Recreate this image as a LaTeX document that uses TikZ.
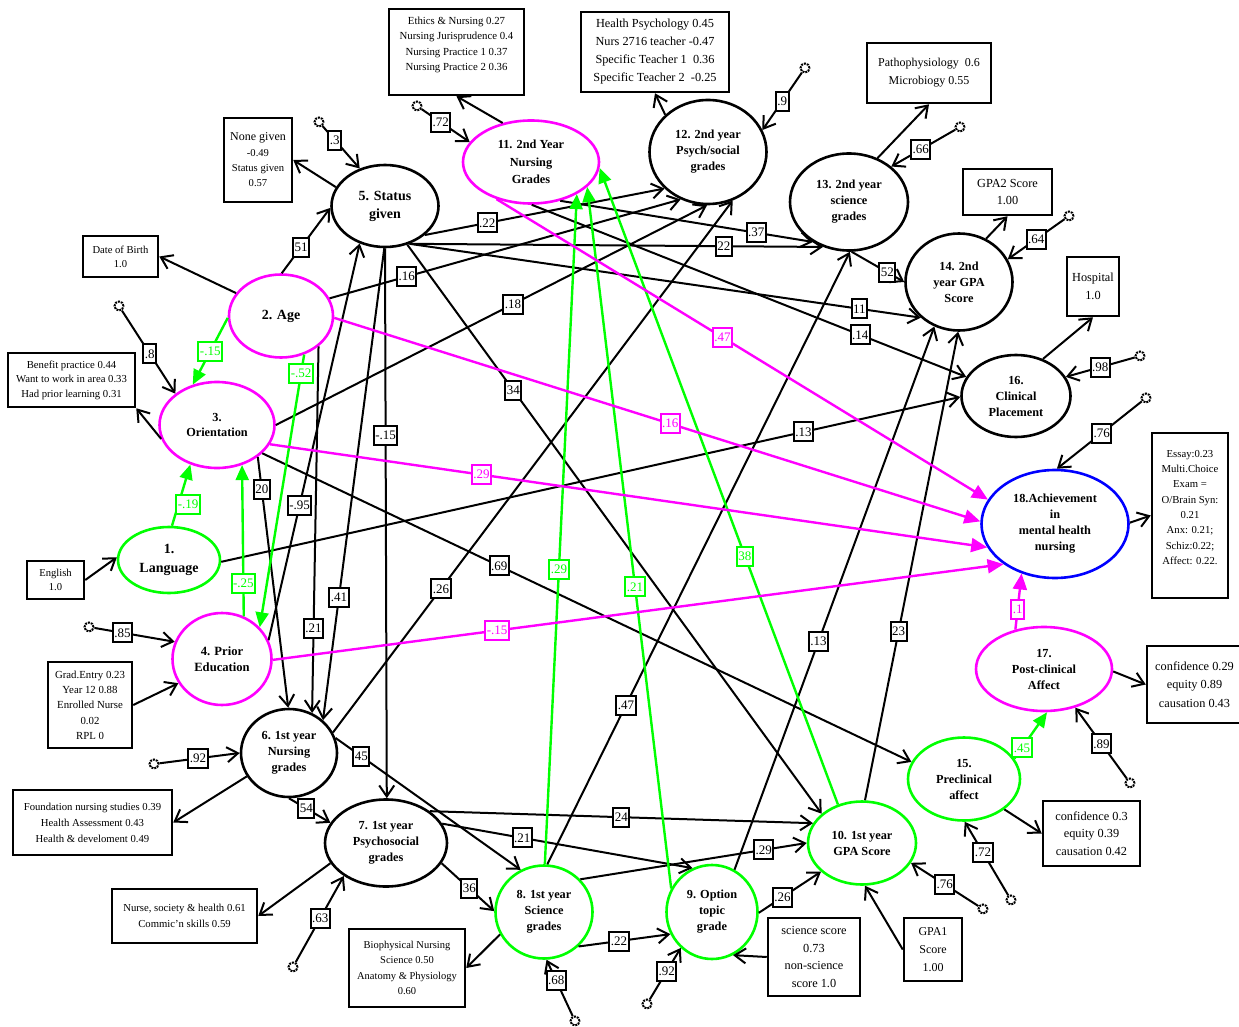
\documentclass[tikz,border=0pt]{standalone}
\usepackage{fontspec}
\setmainfont{Liberation Serif}
\usetikzlibrary{shapes.geometric,arrows.meta}
\definecolor{grn0}{RGB}{0,255,0}
\definecolor{mag0}{RGB}{255,0,255}
\definecolor{blu0}{RGB}{0,0,255}
\tikzset{
 lat/.style={ellipse, draw, line width=2.6pt, inner sep=0pt, align=center, font=\fontsize{12.3}{16}\selectfont\bfseries},
 blk/.style={lat},
 grn/.style={lat, draw=grn0},
 mag/.style={lat, draw=mag0},
 blu/.style={lat, draw=blu0},
 ind/.style={draw, rectangle, line width=2.5pt, align=center, inner sep=1pt, font=\fontsize{10.7}{15}\selectfont},
 err/.style={circle, draw, densely dotted, line width=2pt, minimum size=9pt, inner sep=0pt},
 lbl/.style={draw, fill=white, line width=2pt, inner xsep=1.5pt, inner ysep=0pt, minimum height=19pt, text=black, font=\fontsize{13}{13}\selectfont},
 glbl/.style={lbl, draw=grn0, text=grn0},
 mlbl/.style={lbl, draw=mag0, text=mag0},
 pa/.style={line width=2pt, -{Straight Barb[length=11pt,width=15pt]}},
 ga/.style={line width=2.4pt, draw=grn0, -{Triangle[length=15pt,width=13pt]}},
 ma/.style={line width=2.4pt, draw=mag0, -{Triangle[length=16pt,width=14pt]}}
}
\begin{document}
\begin{tikzpicture}[x=1pt,y=-1pt]
\useasboundingbox (0,0) rectangle (1239,1027);
\fill[white] (0,0) rectangle (1239,1027);

% latent ellipses
\node[grn, minimum width=102pt, minimum height=66pt, font=\fontsize{14}{19}\selectfont\bfseries] (n1) at (169,560) {1.\\Language};
\node[mag, minimum width=104pt, minimum height=83pt, font=\fontsize{14}{18}\selectfont\bfseries] (n2) at (281,316) {2. Age};
\node[mag, minimum width=115pt, minimum height=86pt, font=\fontsize{12.3}{15}\selectfont\bfseries] (n3) at (217,425) {3.\\Orientation};
\node[mag, minimum width=99pt, minimum height=92pt, font=\fontsize{12.6}{16}\selectfont\bfseries] (n4) at (222,659) {4. Prior\\Education};
\node[blk, minimum width=107pt, minimum height=82pt, font=\fontsize{14}{18}\selectfont\bfseries] (n5) at (385,206) {5. Status\\given};
\node[blk, minimum width=96pt, minimum height=88pt] (n6) at (289,753) {6. 1st year\\Nursing\\grades};
\node[blk, minimum width=122pt, minimum height=87pt] (n7) at (386,843) {7. 1st year\\Psychosocial\\grades};
\node[grn, minimum width=97pt, minimum height=93pt] (n8) at (544,912) {8. 1st year\\Science\\grades};
\node[grn, minimum width=91pt, minimum height=94pt] (n9) at (712,912) {9. Option\\topic\\grade};
\node[grn, minimum width=108pt, minimum height=83pt] (n10) at (862,843) {10. 1st year\\GPA Score};
\node[mag, minimum width=136pt, minimum height=83pt, font=\fontsize{12.3}{17.5}\selectfont\bfseries] (n11) at (531,162) {11. 2nd Year\\Nursing\\Grades};
\node[blk, minimum width=117pt, minimum height=104pt] (n12) at (708,152) {12. 2nd year\\Psych/social\\grades};
\node[blk, minimum width=118pt, minimum height=97pt] (n13) at (849,202) {13. 2nd year\\science\\grades};
\node[blk, minimum width=107pt, minimum height=97pt] (n14) at (959,282) {14. 2nd\\year GPA\\Score};
\node[grn, minimum width=112pt, minimum height=83pt] (n15) at (964,779) {15.\\Preclinical\\affect};
\node[blk, minimum width=109pt, minimum height=82pt] (n16) at (1016,396) {16.\\Clinical\\Placement};
\node[mag, minimum width=136pt, minimum height=84pt] (n17) at (1044,669) {17.\\Post-clinical\\Affect};
\node[blu, minimum width=147pt, minimum height=108pt] (n18) at (1055,524) {18.Achievement\\in\\mental health\\nursing};

% indicator boxes
\node[ind, minimum width=135pt, minimum height=86pt, font=\fontsize{10.8}{15.5}\selectfont] (bA) at (456.5,52) {Ethics \& Nursing 0.27\\Nursing Jurisprudence 0.4\\Nursing Practice 1 0.37\\Nursing Practice 2 0.36\\[1pt]};
\node[ind, minimum width=148pt, minimum height=80pt, font=\fontsize{12.3}{18}\selectfont] (bB) at (655,52) {Health Psychology 0.45\\Nurs 2716 teacher -0.47\\Specific Teacher 1~~0.36\\Specific Teacher 2~~-0.25};
\node[ind, minimum width=124pt, minimum height=60pt, font=\fontsize{12}{18}\selectfont] (bC) at (929,73) {Pathophysiology~~0.6\\Microbiogy 0.55};
\node[ind, minimum width=89pt, minimum height=46pt, font=\fontsize{12.3}{17}\selectfont] (bD) at (1007.5,192) {GPA2 Score\\1.00};
\node[ind, minimum width=52pt, minimum height=59pt, font=\fontsize{12.3}{18}\selectfont] (bE) at (1093,286.5) {Hospital\\1.0};
\node[ind, minimum width=76pt, minimum height=165pt, font=\fontsize{10.7}{15.3}\selectfont] (bF) at (1190,515.5) {Essay:0.23\\Multi.Choice\\Exam =\\O/Brain Syn:\\0.21\\Anx: 0.21;\\Schiz:0.22;\\Affect: 0.22.\\[1pt]};
\node[ind, minimum width=95pt, minimum height=77pt, font=\fontsize{12.3}{18.5}\selectfont] (bG) at (1194.5,684.5) {confidence 0.29\\equity 0.89\\causation 0.43};
\node[ind, minimum width=97pt, minimum height=65pt, font=\fontsize{12.3}{17.5}\selectfont] (bH) at (1091.5,833.5) {confidence 0.3\\equity 0.39\\causation 0.42};
\node[ind, minimum width=58pt, minimum height=63pt, font=\fontsize{12}{18}\selectfont] (bI) at (933,949.5) {GPA1\\Score\\1.00};
\node[ind, minimum width=92pt, minimum height=78pt, font=\fontsize{12.3}{17.7}\selectfont] (bJ) at (814,957) {science score\\0.73\\non-science\\score 1.0};
\node[ind, minimum width=116pt, minimum height=78pt, font=\fontsize{10.5}{15.3}\selectfont] (bK) at (407,968) {Biophysical Nursing\\Science 0.50\\Anatomy \& Physiology\\0.60};
\node[ind, minimum width=145pt, minimum height=54pt, font=\fontsize{10.7}{16}\selectfont] (bL) at (184.5,916) {Nurse, society \& health 0.61\\Commic'n skills 0.59};
\node[ind, minimum width=159pt, minimum height=65pt, font=\fontsize{10.7}{16}\selectfont] (bM) at (92.5,822.5) {Foundation nursing studies 0.39\\Health Assessment 0.43\\Health \& develoment 0.49};
\node[ind, minimum width=84pt, minimum height=86pt, font=\fontsize{10.8}{15.3}\selectfont] (bN) at (90,705) {Grad.Entry 0.23\\Year 12 0.88\\Enrolled Nurse\\0.02\\RPL 0};
\node[ind, minimum width=57pt, minimum height=38pt, font=\fontsize{10.6}{14}\selectfont] (bO) at (55.5,580) {English\\1.0};
\node[ind, minimum width=127pt, minimum height=54pt, font=\fontsize{10.7}{14.5}\selectfont] (bP) at (71.5,380) {Benefit practice 0.44\\Want to work in area 0.33\\Had prior learning 0.31};
\node[ind, minimum width=75pt, minimum height=41pt, font=\fontsize{10.6}{14}\selectfont] (bQ) at (120.5,256.5) {Date of Birth\\1.0};
\node[ind, minimum width=68pt, minimum height=84pt, font=\fontsize{10.6}{15.3}\selectfont] (bR) at (258,160) {{\fontsize{12}{15}\selectfont None given}\\-0.49\\Status given\\0.57};

% indicator arrows
\draw[pa] (n2.153) -- (bQ.east);
\draw[pa] (n5.159) -- (bR.east);
\draw[pa] (n3.194.5) -- (bP.south east);
\draw[pa] (bO.east) -- (n1.177);
\draw[pa] (bN.east) -- (n4.209);
\draw[pa] (n6.209) -- (bM.east);
\draw[pa] (n7.200) -- (bL.east);
\draw[pa] (n8.207) -- (bK.east);
\draw[pa] (bJ.west) -- (n9.296);
\draw[pa] (bI.west) -- (n10.274);
\draw[pa] (n15.323) -- (bH.west);
\draw[pa] (n17.358) -- (bG.west);
\draw[pa] (n18.1) -- (bF.west);
\draw[pa] (n16.54) -- (bE.south);
\draw[pa] (n14.58) -- (bD.south);
\draw[pa] (n13.57) -- (bC.south);
\draw[pa] (n12.139) -- (bB.south);
\draw[pa] (n11.126) -- (bA.south);

% structural paths (black)
\draw[pa] (n2.89) -- node[lbl,pos=0.4]{51} (n5.182);
\draw[pa] (n4.22) -- node[lbl,pos=0.34]{-.95} (n5.236);
\draw[pa] (n5.269) -- node[lbl,pos=0.74]{.41} (n6.44);
\draw[pa] (n5.270) -- node[lbl,pos=0.34]{-.15} (n7.89);
\draw[pa] (n2.321.5) -- node[lbl,pos=0.77]{.21} (n6.60);
\draw[pa] (n3.322) -- node[lbl,pos=0.13]{20} (n6.91);
\draw[pa] (n3.328) -- node[lbl,pos=0.365]{.69} (n15.162);
\draw[pa] (n3.0) -- node[lbl,pos=0.55]{.18} (n12.269);
\draw[pa] (n6.25) -- node[lbl,pos=0.27]{.26} (n12.297);
\draw[pa] (n2.20) -- node[lbl,pos=0.22]{.16} (n12.240);
\draw[pa] (n5.324) -- node[lbl,pos=0.26]{.22} (n12.220);
\draw[pa] (n5.303) -- node[lbl,pos=0.76]{22} (n13.240);
\draw[pa] (n5.303) -- node[lbl,pos=0.88]{11} (n14.223);
\draw[pa] (n5.300) -- node[lbl,pos=0.256]{34} (n10.144);
\draw[pa] (n11.307) -- node[lbl,pos=0.775]{.37} (n13.228);
\draw[pa] (n11.271) -- node[lbl,pos=0.756]{.14} (n16.159);
\draw[pa] (n1.358) -- node[lbl,pos=0.788]{.13} (n16.181);
\draw[pa] (n13.273) -- node[lbl,pos=0.68]{52} (n14.180);
\draw[pa] (n8.86) -- node[lbl,pos=0.26]{.47} (n13.271);
\draw[pa] (n9.62) -- node[lbl,pos=0.42]{.13} (n14.241);
\draw[pa] (n10.86) -- node[lbl,pos=0.36]{23} (n14.269);
\draw[pa] (n6.270) -- node[lbl,pos=0.42]{54} (n7.160);
\draw[pa] (n6.18) -- node[lbl,pos=0.14]{45} (n8.119);
\draw[pa] (n7.36) -- node[lbl,pos=0.5]{24} (n10.158);
\draw[pa] (n7.19) -- node[lbl,pos=0.32]{.21} (n9.114);
\draw[pa] (n7.340) -- node[lbl,pos=0.53]{36} (n8.179);
\draw[pa] (n8.315) -- node[lbl,pos=0.44]{.22} (n9.208);
\draw[pa] (n8.42) -- node[lbl,pos=0.81]{.29} (n10.180);
\draw[pa] (n9.359) -- node[lbl,pos=0.38]{.26} (n10.215);

% green paths
\draw[ga] (n2.182) -- node[glbl,pos=0.5]{-.15} (n3.121);
\draw[ga] (n2.301) -- node[glbl,pos=0.07]{-.52} (n4.40);
\draw[ga] (n1.85) -- node[glbl,pos=0.355,xshift=9.6pt]{-.19\hspace{22pt}} (n3.236);
\draw[ga] (n4.63) -- node[glbl,pos=0.22]{-.25} (n3.302);
\draw[ga] (n8.89) -- node[glbl,pos=0.44]{.29} (n11.325);
\draw[ga] (n9.150) -- node[glbl,pos=0.43]{.21} (n11.336);
\draw[ga] (n10.122) -- node[glbl,pos=0.39]{38} (n11.355);
\draw[ga] (n15.22) -- node[glbl,pos=0.23]{.45} (n17.274);

% magenta paths
\draw[ma] (n11.227.5) -- node[mlbl,pos=0.46]{.47} (n18.160.5);
\draw[ma] (n2.358) -- node[mlbl,pos=0.52]{.16} (n18.178);
\draw[ma] (n3.340) -- node[mlbl,pos=0.295]{.29} (n18.199);
\draw[ma] (n4.359) -- node[mlbl,pos=0.307]{-.15} (n18.218);
\draw[ma] (n17.126) -- node[mlbl,pos=0.36]{.1} (n18.236);

% error terms
\node[err] (e5) at (319,122) {};
\node[err] (e11) at (417,106) {};
\node[err] (e12) at (805,68) {};
\node[err] (e13) at (960,127) {};
\node[err] (e14) at (1069,216) {};
\node[err] (e16) at (1140,356) {};
\node[err] (e18) at (1146,398) {};
\node[err] (e17) at (1130,783) {};
\node[err] (e15) at (1011,900) {};
\node[err] (e10) at (983,909) {};
\node[err] (e9) at (647,1004) {};
\node[err] (e8) at (575,1021) {};
\node[err] (e7) at (293,967) {};
\node[err] (e6) at (154,764) {};
\node[err] (e4) at (89,627) {};
\node[err] (e3) at (119,306) {};
\draw[pa] (e5) -- node[lbl,pos=0.33]{.3} (n5.124);
\draw[pa] (e11) -- node[lbl,pos=0.4]{.72} (n11.162);
\draw[pa] (e12) -- node[lbl,pos=0.5]{.9} (n12.22.5);
\draw[pa] (e13) -- node[lbl,pos=0.54]{.66} (n13.40);
\draw[pa] (e14) -- node[lbl,pos=0.5]{.64} (n14.25);
\draw[pa] (e16) -- node[lbl,pos=0.5]{.98} (n16.21);
\draw[pa] (e18) -- node[lbl,pos=0.47]{.76} (n18.88);
\draw[pa] (e17) -- node[lbl,pos=0.49]{.89} (n17.309);
\draw[pa] (e15) -- node[lbl,pos=0.58]{.72} (n15.271);
\draw[pa] (e10) -- node[lbl,pos=0.5]{.76} (n10.338);
\draw[pa] (e9) -- node[lbl,pos=0.55]{.92} (n9.229);
\draw[pa] (e8) -- node[lbl,pos=0.63]{.68} (n8.273);
\draw[pa] (e7) -- node[lbl,pos=0.51]{.63} (n7.218);
\draw[pa] (e6) -- node[lbl,pos=0.48]{.92} (n6.180);
\draw[pa] (e4) -- node[lbl,pos=0.35]{.85} (n4.160);
\draw[pa] (e3) -- node[lbl,pos=0.52]{.8} (n3.143);
\end{tikzpicture}
\end{document}
